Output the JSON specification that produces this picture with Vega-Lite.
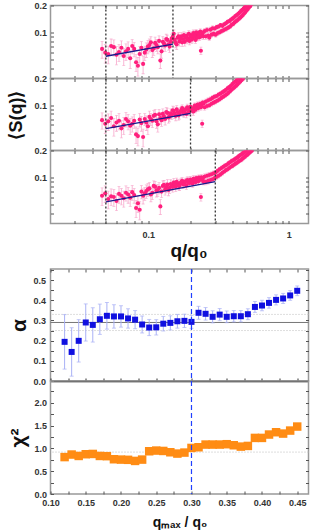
{
"$schema":"https://vega.github.io/schema/vega-lite/v6.json",
"padding":{"left":5.5,"top":0.5,"right":0,"bottom":0},
"autosize":{"type":"pad"},
"datasets":{
"a1":[{"q":0.047,"s":0.066,"e":0.014},{"q":0.052,"s":0.058,"e":0.013},{"q":0.057,"s":0.069,"e":0.014},{"q":0.062,"s":0.061,"e":0.013},{"q":0.067,"s":0.055,"e":0.012},{"q":0.072,"s":0.066,"e":0.013},{"q":0.077,"s":0.071,"e":0.013},{"q":0.082,"s":0.047,"e":0.010},{"q":0.087,"s":0.058,"e":0.012},{"q":0.092,"s":0.045,"e":0.010},{"q":0.097,"s":0.065,"e":0.012},{"q":0.102,"s":0.073,"e":0.012},{"q":0.107,"s":0.064,"e":0.011},{"q":0.112,"s":0.077,"e":0.012},{"q":0.117,"s":0.069,"e":0.011},{"q":0.122,"s":0.049,"e":0.009},{"q":0.127,"s":0.079,"e":0.011},{"q":0.132,"s":0.072,"e":0.010},{"q":0.137,"s":0.083,"e":0.011},{"q":0.142,"s":0.070,"e":0.010},{"q":0.147,"s":0.086,"e":0.010},{"q":0.152,"s":0.097,"e":0.010},{"q":0.157,"s":0.077,"e":0.009},{"q":0.162,"s":0.088,"e":0.009},{"q":0.167,"s":0.080,"e":0.009},{"q":0.172,"s":0.091,"e":0.009},{"q":0.177,"s":0.085,"e":0.008},{"q":0.182,"s":0.079,"e":0.008},{"q":0.187,"s":0.092,"e":0.008},{"q":0.192,"s":0.086,"e":0.008},{"q":0.197,"s":0.081,"e":0.008},{"q":0.202,"s":0.094,"e":0.008},{"q":0.207,"s":0.087,"e":0.008},{"q":0.212,"s":0.096,"e":0.008},{"q":0.217,"s":0.083,"e":0.007},{"q":0.222,"s":0.093,"e":0.007},{"q":0.227,"s":0.099,"e":0.007},{"q":0.232,"s":0.089,"e":0.007},{"q":0.237,"s":0.063,"e":0.006},{"q":0.242,"s":0.097,"e":0.007},{"q":0.247,"s":0.091,"e":0.007},{"q":0.252,"s":0.104,"e":0.007},{"q":0.257,"s":0.091,"e":0.007},{"q":0.262,"s":0.107,"e":0.007},{"q":0.267,"s":0.093,"e":0.007},{"q":0.272,"s":0.088,"e":0.006},{"q":0.277,"s":0.108,"e":0.007},{"q":0.282,"s":0.095,"e":0.006},{"q":0.287,"s":0.112,"e":0.007},{"q":0.292,"s":0.097,"e":0.006},{"q":0.297,"s":0.111,"e":0.006},{"q":0.302,"s":0.095,"e":0.006},{"q":0.307,"s":0.115,"e":0.006},{"q":0.312,"s":0.099,"e":0.006},{"q":0.317,"s":0.117,"e":0.006},{"q":0.322,"s":0.101,"e":0.006},{"q":0.327,"s":0.121,"e":0.006},{"q":0.332,"s":0.104,"e":0.006},{"q":0.337,"s":0.119,"e":0.006},{"q":0.342,"s":0.106,"e":0.006},{"q":0.347,"s":0.124,"e":0.006},{"q":0.352,"s":0.109,"e":0.006},{"q":0.357,"s":0.127,"e":0.006},{"q":0.362,"s":0.111,"e":0.006},{"q":0.367,"s":0.132,"e":0.006},{"q":0.372,"s":0.114,"e":0.006},{"q":0.377,"s":0.134,"e":0.006},{"q":0.382,"s":0.117,"e":0.006},{"q":0.387,"s":0.139,"e":0.006},{"q":0.392,"s":0.122,"e":0.006},{"q":0.397,"s":0.143,"e":0.006},{"q":0.402,"s":0.125,"e":0.006},{"q":0.407,"s":0.147,"e":0.006},{"q":0.412,"s":0.130,"e":0.006},{"q":0.417,"s":0.153,"e":0.006},{"q":0.422,"s":0.134,"e":0.006},{"q":0.427,"s":0.157,"e":0.006},{"q":0.432,"s":0.138,"e":0.006},{"q":0.437,"s":0.162,"e":0.007},{"q":0.442,"s":0.143,"e":0.007},{"q":0.447,"s":0.167,"e":0.007},{"q":0.452,"s":0.147,"e":0.007},{"q":0.457,"s":0.173,"e":0.007},{"q":0.462,"s":0.152,"e":0.007},{"q":0.467,"s":0.179,"e":0.007},{"q":0.472,"s":0.158,"e":0.007},{"q":0.477,"s":0.185,"e":0.007},{"q":0.482,"s":0.164,"e":0.007},{"q":0.487,"s":0.193,"e":0.008},{"q":0.492,"s":0.170,"e":0.008},{"q":0.497,"s":0.199,"e":0.008},{"q":0.502,"s":0.177,"e":0.008},{"q":0.507,"s":0.205,"e":0.008},{"q":0.512,"s":0.184,"e":0.008},{"q":0.517,"s":0.213,"e":0.008},{"q":0.522,"s":0.191,"e":0.008},{"q":0.527,"s":0.22,"e":0.008},{"q":0.532,"s":0.198,"e":0.008},{"q":0.537,"s":0.215,"e":0.008},{"q":0.542,"s":0.207,"e":0.008},{"q":0.547,"s":0.222,"e":0.008},
{"q":0.0495,"s":0.060,"e":0.014},{"q":0.0545,"s":0.071,"e":0.014},{"q":0.0595,"s":0.057,"e":0.013},{"q":0.0645,"s":0.068,"e":0.013},{"q":0.0695,"s":0.062,"e":0.013},{"q":0.0745,"s":0.052,"e":0.012},{"q":0.0795,"s":0.066,"e":0.012},{"q":0.0845,"s":0.043,"e":0.010},{"q":0.0895,"s":0.068,"e":0.012},{"q":0.0945,"s":0.060,"e":0.011},{"q":0.0995,"s":0.070,"e":0.012},{"q":0.1045,"s":0.078,"e":0.012},{"q":0.1095,"s":0.067,"e":0.011},{"q":0.1145,"s":0.073,"e":0.011},{"q":0.1195,"s":0.081,"e":0.011},{"q":0.1245,"s":0.062,"e":0.010},{"q":0.1295,"s":0.076,"e":0.010},{"q":0.1345,"s":0.085,"e":0.011},{"q":0.1395,"s":0.074,"e":0.010},{"q":0.1445,"s":0.079,"e":0.010},{"q":0.1495,"s":0.090,"e":0.010},{"q":0.1545,"s":0.083,"e":0.009},{"q":0.1595,"s":0.074,"e":0.009},{"q":0.1645,"s":0.091,"e":0.009},{"q":0.1695,"s":0.085,"e":0.009},{"q":0.1745,"s":0.078,"e":0.008},{"q":0.1795,"s":0.094,"e":0.008},{"q":0.1845,"s":0.088,"e":0.008},{"q":0.1895,"s":0.083,"e":0.008},{"q":0.1945,"s":0.097,"e":0.008},{"q":0.1995,"s":0.090,"e":0.008},{"q":0.2045,"s":0.084,"e":0.008},{"q":0.2095,"s":0.099,"e":0.008},{"q":0.2145,"s":0.091,"e":0.007},{"q":0.2195,"s":0.101,"e":0.007},{"q":0.2245,"s":0.088,"e":0.007},{"q":0.2295,"s":0.095,"e":0.007},{"q":0.2345,"s":0.103,"e":0.007},{"q":0.2395,"s":0.092,"e":0.007},{"q":0.2445,"s":0.100,"e":0.007}],
"a2":[{"q":0.047,"s":0.068,"e":0.014},{"q":0.052,"s":0.066,"e":0.014},{"q":0.057,"s":0.058,"e":0.013},{"q":0.062,"s":0.067,"e":0.014},{"q":0.067,"s":0.060,"e":0.013},{"q":0.072,"s":0.066,"e":0.013},{"q":0.077,"s":0.062,"e":0.012},{"q":0.082,"s":0.047,"e":0.010},{"q":0.087,"s":0.069,"e":0.012},{"q":0.092,"s":0.044,"e":0.010},{"q":0.097,"s":0.064,"e":0.012},{"q":0.102,"s":0.074,"e":0.012},{"q":0.107,"s":0.067,"e":0.011},{"q":0.112,"s":0.078,"e":0.012},{"q":0.117,"s":0.061,"e":0.011},{"q":0.122,"s":0.072,"e":0.011},{"q":0.127,"s":0.080,"e":0.011},{"q":0.132,"s":0.070,"e":0.010},{"q":0.137,"s":0.082,"e":0.011},{"q":0.142,"s":0.075,"e":0.010},{"q":0.147,"s":0.079,"e":0.010},{"q":0.152,"s":0.086,"e":0.010},{"q":0.157,"s":0.076,"e":0.009},{"q":0.162,"s":0.084,"e":0.009},{"q":0.167,"s":0.079,"e":0.009},{"q":0.172,"s":0.089,"e":0.009},{"q":0.177,"s":0.083,"e":0.008},{"q":0.182,"s":0.087,"e":0.008},{"q":0.187,"s":0.080,"e":0.008},{"q":0.192,"s":0.091,"e":0.008},{"q":0.197,"s":0.085,"e":0.008},{"q":0.202,"s":0.092,"e":0.008},{"q":0.207,"s":0.088,"e":0.008},{"q":0.212,"s":0.095,"e":0.008},{"q":0.217,"s":0.089,"e":0.007},{"q":0.222,"s":0.097,"e":0.007},{"q":0.227,"s":0.093,"e":0.007},{"q":0.232,"s":0.100,"e":0.007},{"q":0.237,"s":0.095,"e":0.007},{"q":0.242,"s":0.062,"e":0.006},{"q":0.247,"s":0.105,"e":0.007},{"q":0.252,"s":0.095,"e":0.007},{"q":0.257,"s":0.110,"e":0.007},{"q":0.262,"s":0.098,"e":0.007},{"q":0.267,"s":0.114,"e":0.007},{"q":0.272,"s":0.100,"e":0.006},{"q":0.277,"s":0.117,"e":0.007},{"q":0.282,"s":0.104,"e":0.006},{"q":0.287,"s":0.121,"e":0.007},{"q":0.292,"s":0.107,"e":0.006},{"q":0.297,"s":0.125,"e":0.006},{"q":0.302,"s":0.110,"e":0.006},{"q":0.307,"s":0.127,"e":0.006},{"q":0.312,"s":0.113,"e":0.006},{"q":0.317,"s":0.132,"e":0.006},{"q":0.322,"s":0.117,"e":0.006},{"q":0.327,"s":0.135,"e":0.006},{"q":0.332,"s":0.121,"e":0.006},{"q":0.337,"s":0.140,"e":0.006},{"q":0.342,"s":0.125,"e":0.006},{"q":0.347,"s":0.144,"e":0.006},{"q":0.352,"s":0.129,"e":0.006},{"q":0.357,"s":0.149,"e":0.006},{"q":0.362,"s":0.133,"e":0.006},{"q":0.367,"s":0.155,"e":0.007},{"q":0.372,"s":0.138,"e":0.007},{"q":0.377,"s":0.160,"e":0.007},{"q":0.382,"s":0.144,"e":0.007},{"q":0.387,"s":0.166,"e":0.007},{"q":0.392,"s":0.150,"e":0.007},{"q":0.397,"s":0.173,"e":0.007},{"q":0.402,"s":0.155,"e":0.007},{"q":0.407,"s":0.179,"e":0.008},{"q":0.412,"s":0.160,"e":0.008},{"q":0.417,"s":0.185,"e":0.008},{"q":0.422,"s":0.166,"e":0.008},{"q":0.427,"s":0.192,"e":0.008},{"q":0.432,"s":0.172,"e":0.008},{"q":0.437,"s":0.199,"e":0.008},{"q":0.442,"s":0.179,"e":0.008},{"q":0.447,"s":0.206,"e":0.008},{"q":0.452,"s":0.185,"e":0.008},{"q":0.457,"s":0.213,"e":0.008},{"q":0.462,"s":0.192,"e":0.008},{"q":0.467,"s":0.22,"e":0.008},{"q":0.472,"s":0.199,"e":0.008},{"q":0.477,"s":0.215,"e":0.008},
{"q":0.0495,"s":0.062,"e":0.014},{"q":0.0545,"s":0.072,"e":0.014},{"q":0.0595,"s":0.064,"e":0.013},{"q":0.0645,"s":0.055,"e":0.012},{"q":0.0695,"s":0.070,"e":0.013},{"q":0.0745,"s":0.059,"e":0.012},{"q":0.0795,"s":0.067,"e":0.012},{"q":0.0845,"s":0.045,"e":0.010},{"q":0.0895,"s":0.063,"e":0.012},{"q":0.0945,"s":0.070,"e":0.011},{"q":0.0995,"s":0.058,"e":0.011},{"q":0.1045,"s":0.070,"e":0.011},{"q":0.1095,"s":0.076,"e":0.011},{"q":0.1145,"s":0.066,"e":0.011},{"q":0.1195,"s":0.079,"e":0.011},{"q":0.1245,"s":0.068,"e":0.010},{"q":0.1295,"s":0.075,"e":0.010},{"q":0.1345,"s":0.084,"e":0.010},{"q":0.1395,"s":0.073,"e":0.010},{"q":0.1445,"s":0.081,"e":0.010},{"q":0.1495,"s":0.088,"e":0.010},{"q":0.1545,"s":0.080,"e":0.009},{"q":0.1595,"s":0.090,"e":0.009},{"q":0.1645,"s":0.077,"e":0.009},{"q":0.1695,"s":0.085,"e":0.009},{"q":0.1745,"s":0.093,"e":0.008},{"q":0.1795,"s":0.081,"e":0.008},{"q":0.1845,"s":0.090,"e":0.008},{"q":0.1895,"s":0.095,"e":0.008},{"q":0.1945,"s":0.084,"e":0.008},{"q":0.1995,"s":0.096,"e":0.008},{"q":0.2045,"s":0.091,"e":0.008},{"q":0.2095,"s":0.085,"e":0.008},{"q":0.2145,"s":0.099,"e":0.007},{"q":0.2195,"s":0.092,"e":0.007},{"q":0.2245,"s":0.102,"e":0.007},{"q":0.2295,"s":0.096,"e":0.007},{"q":0.2345,"s":0.104,"e":0.007},{"q":0.2395,"s":0.098,"e":0.007},{"q":0.2445,"s":0.107,"e":0.007}],
"a3":[{"q":0.047,"s":0.063,"e":0.014},{"q":0.052,"s":0.058,"e":0.013},{"q":0.057,"s":0.061,"e":0.013},{"q":0.062,"s":0.066,"e":0.014},{"q":0.067,"s":0.059,"e":0.012},{"q":0.072,"s":0.065,"e":0.013},{"q":0.077,"s":0.069,"e":0.013},{"q":0.082,"s":0.046,"e":0.010},{"q":0.087,"s":0.044,"e":0.010},{"q":0.092,"s":0.063,"e":0.012},{"q":0.097,"s":0.071,"e":0.012},{"q":0.102,"s":0.076,"e":0.012},{"q":0.107,"s":0.068,"e":0.011},{"q":0.112,"s":0.079,"e":0.012},{"q":0.117,"s":0.073,"e":0.011},{"q":0.122,"s":0.048,"e":0.009},{"q":0.127,"s":0.081,"e":0.011},{"q":0.132,"s":0.074,"e":0.010},{"q":0.137,"s":0.084,"e":0.011},{"q":0.142,"s":0.077,"e":0.010},{"q":0.147,"s":0.082,"e":0.010},{"q":0.152,"s":0.088,"e":0.010},{"q":0.157,"s":0.079,"e":0.009},{"q":0.162,"s":0.086,"e":0.009},{"q":0.167,"s":0.081,"e":0.009},{"q":0.172,"s":0.090,"e":0.009},{"q":0.177,"s":0.084,"e":0.008},{"q":0.182,"s":0.088,"e":0.008},{"q":0.187,"s":0.082,"e":0.008},{"q":0.192,"s":0.093,"e":0.008},{"q":0.197,"s":0.087,"e":0.008},{"q":0.202,"s":0.091,"e":0.008},{"q":0.207,"s":0.086,"e":0.008},{"q":0.212,"s":0.094,"e":0.008},{"q":0.217,"s":0.089,"e":0.007},{"q":0.222,"s":0.096,"e":0.007},{"q":0.227,"s":0.091,"e":0.007},{"q":0.232,"s":0.098,"e":0.007},{"q":0.237,"s":0.061,"e":0.006},{"q":0.242,"s":0.095,"e":0.007},{"q":0.247,"s":0.090,"e":0.007},{"q":0.252,"s":0.103,"e":0.007},{"q":0.257,"s":0.090,"e":0.007},{"q":0.262,"s":0.105,"e":0.007},{"q":0.267,"s":0.092,"e":0.007},{"q":0.272,"s":0.107,"e":0.007},{"q":0.277,"s":0.094,"e":0.006},{"q":0.282,"s":0.109,"e":0.007},{"q":0.287,"s":0.096,"e":0.006},{"q":0.292,"s":0.112,"e":0.007},{"q":0.297,"s":0.099,"e":0.006},{"q":0.302,"s":0.114,"e":0.006},{"q":0.307,"s":0.102,"e":0.006},{"q":0.312,"s":0.119,"e":0.006},{"q":0.317,"s":0.105,"e":0.006},{"q":0.322,"s":0.124,"e":0.006},{"q":0.327,"s":0.109,"e":0.006},{"q":0.332,"s":0.128,"e":0.006},{"q":0.337,"s":0.113,"e":0.006},{"q":0.342,"s":0.132,"e":0.006},{"q":0.347,"s":0.117,"e":0.006},{"q":0.352,"s":0.136,"e":0.006},{"q":0.357,"s":0.121,"e":0.006},{"q":0.362,"s":0.139,"e":0.006},{"q":0.367,"s":0.124,"e":0.006},{"q":0.372,"s":0.144,"e":0.006},{"q":0.377,"s":0.128,"e":0.006},{"q":0.382,"s":0.148,"e":0.006},{"q":0.387,"s":0.132,"e":0.006},{"q":0.392,"s":0.153,"e":0.007},{"q":0.397,"s":0.135,"e":0.007},{"q":0.402,"s":0.156,"e":0.007},{"q":0.407,"s":0.139,"e":0.007},{"q":0.412,"s":0.160,"e":0.007},{"q":0.417,"s":0.143,"e":0.007},{"q":0.422,"s":0.164,"e":0.007},{"q":0.427,"s":0.146,"e":0.007},{"q":0.432,"s":0.168,"e":0.007},{"q":0.437,"s":0.150,"e":0.007},{"q":0.442,"s":0.173,"e":0.007},{"q":0.447,"s":0.154,"e":0.007},{"q":0.452,"s":0.178,"e":0.007},{"q":0.457,"s":0.157,"e":0.007},{"q":0.462,"s":0.182,"e":0.008},{"q":0.467,"s":0.162,"e":0.008},{"q":0.472,"s":0.187,"e":0.008},{"q":0.477,"s":0.166,"e":0.008},{"q":0.482,"s":0.191,"e":0.008},{"q":0.487,"s":0.171,"e":0.008},{"q":0.492,"s":0.197,"e":0.008},{"q":0.497,"s":0.176,"e":0.008},{"q":0.502,"s":0.202,"e":0.008},{"q":0.507,"s":0.180,"e":0.008},{"q":0.512,"s":0.207,"e":0.008},{"q":0.517,"s":0.185,"e":0.008},{"q":0.522,"s":0.212,"e":0.008},{"q":0.527,"s":0.190,"e":0.008},{"q":0.532,"s":0.217,"e":0.008},{"q":0.537,"s":0.195,"e":0.008},{"q":0.542,"s":0.222,"e":0.008},{"q":0.547,"s":0.2,"e":0.008},{"q":0.552,"s":0.215,"e":0.008},
{"q":0.0495,"s":0.067,"e":0.014},{"q":0.0545,"s":0.062,"e":0.013},{"q":0.0595,"s":0.055,"e":0.012},{"q":0.0645,"s":0.063,"e":0.013},{"q":0.0695,"s":0.068,"e":0.013},{"q":0.0745,"s":0.060,"e":0.012},{"q":0.0795,"s":0.064,"e":0.012},{"q":0.0845,"s":0.052,"e":0.011},{"q":0.0895,"s":0.070,"e":0.012},{"q":0.0945,"s":0.067,"e":0.011},{"q":0.0995,"s":0.074,"e":0.012},{"q":0.1045,"s":0.065,"e":0.011},{"q":0.1095,"s":0.081,"e":0.011},{"q":0.1145,"s":0.072,"e":0.011},{"q":0.1195,"s":0.077,"e":0.011},{"q":0.1245,"s":0.070,"e":0.010},{"q":0.1295,"s":0.083,"e":0.010},{"q":0.1345,"s":0.078,"e":0.010},{"q":0.1395,"s":0.073,"e":0.010},{"q":0.1445,"s":0.085,"e":0.010},{"q":0.1495,"s":0.079,"e":0.010},{"q":0.1545,"s":0.084,"e":0.009},{"q":0.1595,"s":0.090,"e":0.009},{"q":0.1645,"s":0.082,"e":0.009},{"q":0.1695,"s":0.087,"e":0.009},{"q":0.1745,"s":0.092,"e":0.008},{"q":0.1795,"s":0.085,"e":0.008},{"q":0.1845,"s":0.091,"e":0.008},{"q":0.1895,"s":0.094,"e":0.008},{"q":0.1945,"s":0.088,"e":0.008},{"q":0.1995,"s":0.095,"e":0.008},{"q":0.2045,"s":0.089,"e":0.008},{"q":0.2095,"s":0.097,"e":0.008},{"q":0.2145,"s":0.092,"e":0.007},{"q":0.2195,"s":0.099,"e":0.007},{"q":0.2245,"s":0.094,"e":0.007},{"q":0.2295,"s":0.100,"e":0.007},{"q":0.2345,"s":0.095,"e":0.007},{"q":0.2395,"s":0.101,"e":0.007},{"q":0.2445,"s":0.097,"e":0.007}],
"b":[{"q":0.12,"a":0.194,"e":0.135},{"q":0.13,"a":0.144,"e":0.12},{"q":0.14,"a":0.199,"e":0.105},{"q":0.15,"a":0.29,"e":0.092},{"q":0.16,"a":0.278,"e":0.085},{"q":0.17,"a":0.306,"e":0.075},{"q":0.18,"a":0.323,"e":0.066},{"q":0.19,"a":0.32,"e":0.058},{"q":0.2,"a":0.32,"e":0.053},{"q":0.21,"a":0.31,"e":0.048},{"q":0.22,"a":0.304,"e":0.045},{"q":0.23,"a":0.28,"e":0.042},{"q":0.24,"a":0.265,"e":0.04},{"q":0.25,"a":0.266,"e":0.038},{"q":0.26,"a":0.284,"e":0.036},{"q":0.27,"a":0.288,"e":0.035},{"q":0.28,"a":0.296,"e":0.034},{"q":0.29,"a":0.298,"e":0.033},{"q":0.3,"a":0.293,"e":0.032},{"q":0.31,"a":0.338,"e":0.032},{"q":0.32,"a":0.333,"e":0.031},{"q":0.33,"a":0.318,"e":0.03},{"q":0.34,"a":0.329,"e":0.03},{"q":0.35,"a":0.318,"e":0.029},{"q":0.36,"a":0.321,"e":0.028},{"q":0.37,"a":0.321,"e":0.028},{"q":0.38,"a":0.331,"e":0.027},{"q":0.39,"a":0.367,"e":0.027},{"q":0.4,"a":0.374,"e":0.026},{"q":0.41,"a":0.387,"e":0.026},{"q":0.42,"a":0.402,"e":0.025},{"q":0.43,"a":0.409,"e":0.025},{"q":0.44,"a":0.424,"e":0.024},{"q":0.45,"a":0.447,"e":0.024}],
"c":[{"q":0.12,"c":0.81},{"q":0.13,"c":0.866},{"q":0.14,"c":0.835},{"q":0.15,"c":0.873},{"q":0.16,"c":0.879},{"q":0.17,"c":0.835},{"q":0.18,"c":0.83},{"q":0.19,"c":0.763},{"q":0.2,"c":0.755},{"q":0.21,"c":0.75},{"q":0.22,"c":0.726},{"q":0.23,"c":0.755},{"q":0.24,"c":0.938},{"q":0.25,"c":0.953},{"q":0.26,"c":0.945},{"q":0.27,"c":0.916},{"q":0.28,"c":0.887},{"q":0.29,"c":0.909},{"q":0.3,"c":1.011},{"q":0.31,"c":1.026},{"q":0.32,"c":1.085},{"q":0.33,"c":1.085},{"q":0.34,"c":1.085},{"q":0.35,"c":1.093},{"q":0.36,"c":1.07},{"q":0.37,"c":1.04},{"q":0.38,"c":1.055},{"q":0.39,"c":1.231},{"q":0.4,"c":1.231},{"q":0.41,"c":1.305},{"q":0.42,"c":1.356},{"q":0.43,"c":1.326},{"q":0.44,"c":1.392},{"q":0.45,"c":1.48}]
},
"vconcat":[
{"vconcat":[
{"width":258,"height":73,
"layer":[
{"data":{"name":"a1"},"mark":{"type":"errorbar","ticks":true,"size":3,"thickness":0.8,"color":"#f7a3c9","clip":true},
"encoding":{"x":{"field":"q","type":"quantitative","scale":{"type":"log","domain":[0.0202,1.38],"nice":false},"axis":{"orient":"top","values":[0.03,0.04,0.05,0.06,0.07,0.08,0.09,0.1,0.2,0.3,0.4,0.5,0.6,0.7,0.8,0.9,1],"labels":false,"title":null,"tickSize":-3}},
"y":{"field":"s","type":"quantitative","scale":{"type":"log","domain":[0.031,0.2],"nice":false},"axis":{"orient":"right","values":[0.04,0.05,0.06,0.07,0.08,0.09,0.1,0.2],"labels":false,"title":null,"tickSize":-3}},
"yError":{"field":"e"}}},
{"data":{"name":"a1"},"mark":{"type":"circle","color":"#ff1f7d","size":17,"opacity":1,"clip":true},
"encoding":{"x":{"field":"q","type":"quantitative","axis":{"orient":"bottom","values":[0.03,0.04,0.05,0.06,0.07,0.08,0.09,0.1,0.2,0.3,0.4,0.5,0.6,0.7,0.8,0.9,1],"labels":false,"title":null,"tickSize":-3}},
"y":{"field":"s","type":"quantitative","axis":{"values":[0.04,0.05,0.06,0.07,0.08,0.09,0.1,0.2],"labelExpr":"datum.value == 0.1 ? '0.1' : datum.value == 0.2 ? '0.2' : ''","title":null,"tickSize":-3,"labelPadding":7}}}},
{"data":{"values":[{"q":0.05,"s":0.0547},{"q":0.15,"s":0.0747}]},"mark":{"type":"line","color":"#1a1a8c","strokeWidth":1.3},
"encoding":{"x":{"field":"q","type":"quantitative","axis":null},"y":{"field":"s","type":"quantitative","axis":null}}},
{"data":{"values":[{"q":0.05},{"q":0.15}]},"mark":{"type":"rule","color":"#333","strokeDash":[2,2],"strokeWidth":1.3},
"encoding":{"x":{"field":"q","type":"quantitative","axis":null}}},
{"mark":{"type":"text","fontSize":13,"align":"center","baseline":"middle","color":"#111"},
"encoding":{"x":{"datum":0.0317,"type":"quantitative","axis":null},"y":{"datum":0.154,"type":"quantitative","axis":null},"text":{"value":"α"}}},
{"mark":{"type":"text","fontSize":9,"align":"right","baseline":"middle","color":"#111"},
"encoding":{"x":{"datum":0.0458,"type":"quantitative","axis":null},"y":{"datum":0.0467,"type":"quantitative","axis":null},"text":{"value":"0.29 ± 0.09"}}},
{"mark":{"type":"text","fontSize":20,"align":"right","baseline":"middle","color":"#111"},
"encoding":{"x":{"datum":1.336,"type":"quantitative","axis":null},"y":{"datum":0.127,"type":"quantitative","axis":null},"text":{"value":"(a)"}}}
],
"resolve":{"axis":{"x":"independent","y":"independent"}}},
{"width":258,"height":72,
"layer":[
{"data":{"name":"a2"},"mark":{"type":"errorbar","ticks":true,"size":3,"thickness":0.8,"color":"#f7a3c9","clip":true},
"encoding":{"x":{"field":"q","type":"quantitative","scale":{"type":"log","domain":[0.0202,1.38],"nice":false},"axis":{"orient":"top","values":[0.03,0.04,0.05,0.06,0.07,0.08,0.09,0.1,0.2,0.3,0.4,0.5,0.6,0.7,0.8,0.9,1],"labels":false,"title":null,"tickSize":-3}},
"y":{"field":"s","type":"quantitative","scale":{"type":"log","domain":[0.031,0.2],"nice":false},"axis":{"orient":"right","values":[0.04,0.05,0.06,0.07,0.08,0.09,0.1,0.2],"labels":false,"title":null,"tickSize":-3}},
"yError":{"field":"e"}}},
{"data":{"name":"a2"},"mark":{"type":"circle","color":"#ff1f7d","size":17,"opacity":1,"clip":true},
"encoding":{"x":{"field":"q","type":"quantitative","axis":{"orient":"bottom","values":[0.03,0.04,0.05,0.06,0.07,0.08,0.09,0.1,0.2,0.3,0.4,0.5,0.6,0.7,0.8,0.9,1],"labels":false,"title":null,"tickSize":-3}},
"y":{"field":"s","type":"quantitative","axis":{"values":[0.04,0.05,0.06,0.07,0.08,0.09,0.1,0.2],"labelExpr":"datum.value == 0.1 ? '0.1' : datum.value == 0.2 ? '0.2' : ''","title":"⟨S(q)⟩","titleFontSize":18,"titleX":-34.5,"titleBaseline":"middle","titleAlign":"center","tickSize":-3,"labelPadding":7}}}},
{"data":{"values":[{"q":0.05,"s":0.0545},{"q":0.2,"s":0.081}]},"mark":{"type":"line","color":"#1a1a8c","strokeWidth":1.3},
"encoding":{"x":{"field":"q","type":"quantitative","axis":null},"y":{"field":"s","type":"quantitative","axis":null}}},
{"data":{"values":[{"q":0.05},{"q":0.2}]},"mark":{"type":"rule","color":"#333","strokeDash":[2,2],"strokeWidth":1.3},
"encoding":{"x":{"field":"q","type":"quantitative","axis":null}}},
{"mark":{"type":"text","fontSize":9,"align":"right","baseline":"middle","color":"#111"},
"encoding":{"x":{"datum":0.0458,"type":"quantitative","axis":null},"y":{"datum":0.0432,"type":"quantitative","axis":null},"text":{"value":"0.32 ± 0.05"}}}
],
"resolve":{"axis":{"x":"independent","y":"independent"}}},
{"width":258,"height":73,
"layer":[
{"data":{"name":"a3"},"mark":{"type":"errorbar","ticks":true,"size":3,"thickness":0.8,"color":"#f7a3c9","clip":true},
"encoding":{"x":{"field":"q","type":"quantitative","scale":{"type":"log","domain":[0.0202,1.38],"nice":false},"axis":{"orient":"top","values":[0.03,0.04,0.05,0.06,0.07,0.08,0.09,0.1,0.2,0.3,0.4,0.5,0.6,0.7,0.8,0.9,1],"labels":false,"title":null,"tickSize":-3}},
"y":{"field":"s","type":"quantitative","scale":{"type":"log","domain":[0.031,0.2],"nice":false},"axis":{"orient":"right","values":[0.04,0.05,0.06,0.07,0.08,0.09,0.1,0.2],"labels":false,"title":null,"tickSize":-3}},
"yError":{"field":"e"}}},
{"data":{"name":"a3"},"mark":{"type":"circle","color":"#ff1f7d","size":17,"opacity":1,"clip":true},
"encoding":{"x":{"field":"q","type":"quantitative","axis":{"orient":"bottom","values":[0.03,0.04,0.05,0.06,0.07,0.08,0.09,0.1,0.2,0.3,0.4,0.5,0.6,0.7,0.8,0.9,1],"labelExpr":"datum.value == 0.1 ? '0.1' : datum.value == 1 ? '1' : ''","title":"q/q₀","titleFontSize":19,"titleX":138,"titleY":27,"titleBaseline":"middle","tickSize":-3,"labelPadding":10}},
"y":{"field":"s","type":"quantitative","axis":{"values":[0.04,0.05,0.06,0.07,0.08,0.09,0.1,0.2],"labelExpr":"datum.value == 0.1 ? '0.1' : datum.value == 0.2 ? '0.2' : ''","title":null,"tickSize":-3,"labelPadding":7}}}},
{"data":{"values":[{"q":0.05,"s":0.054},{"q":0.3,"s":0.0901}]},"mark":{"type":"line","color":"#1a1a8c","strokeWidth":1.3},
"encoding":{"x":{"field":"q","type":"quantitative","axis":null},"y":{"field":"s","type":"quantitative","axis":null}}},
{"data":{"values":[{"q":0.05},{"q":0.3}]},"mark":{"type":"rule","color":"#333","strokeDash":[2,2],"strokeWidth":1.3},
"encoding":{"x":{"field":"q","type":"quantitative","axis":null}}},
{"mark":{"type":"text","fontSize":9,"align":"right","baseline":"middle","color":"#111"},
"encoding":{"x":{"datum":0.0458,"type":"quantitative","axis":null},"y":{"datum":0.040,"type":"quantitative","axis":null},"text":{"value":"0.29 ± 0.04"}}}
],
"resolve":{"axis":{"x":"independent","y":"independent"}}}
],"spacing":0,"bounds":"flush"},
{"vconcat":[
{"width":258,"height":112,
"layer":[
{"data":{"values":[{"v":0.29}]},"mark":{"type":"rule","color":"#777","strokeWidth":1},
"encoding":{"y":{"field":"v","type":"quantitative","scale":{"domain":[0,0.555],"nice":false},"axis":null}}},
{"data":{"values":[{"v":0.25},{"v":0.33}]},"mark":{"type":"rule","color":"#bbb","strokeWidth":1,"strokeDash":[1,2]},
"encoding":{"y":{"field":"v","type":"quantitative","axis":null}}},
{"data":{"name":"b"},"mark":{"type":"errorbar","ticks":true,"size":4,"thickness":1,"color":"#a9b1f5"},
"encoding":{"x":{"field":"q","type":"quantitative","scale":{"domain":[0.1,0.466],"nice":false,"zero":false},"axis":{"orient":"top","values":[0.1,0.125,0.15,0.175,0.2,0.225,0.25,0.275,0.3,0.325,0.35,0.375,0.4,0.425,0.45],"labels":false,"title":null,"tickSize":-3}},
"y":{"field":"a","type":"quantitative","axis":{"orient":"right","values":[0.05,0.1,0.15,0.2,0.25,0.3,0.35,0.4,0.45,0.5,0.55],"labels":false,"title":null,"tickSize":-3}},
"yError":{"field":"e"}}},
{"data":{"name":"b"},"mark":{"type":"square","color":"#1010e0","size":36,"opacity":1},
"encoding":{"x":{"field":"q","type":"quantitative","axis":{"orient":"bottom","values":[0.1,0.125,0.15,0.175,0.2,0.225,0.25,0.275,0.3,0.325,0.35,0.375,0.4,0.425,0.45],"labels":false,"title":null,"tickSize":-3,"domain":true,"domainColor":"#000","domainWidth":1.5,"tickColor":"#333"}},
"y":{"field":"a","type":"quantitative","axis":{"values":[0,0.05,0.1,0.15,0.2,0.25,0.3,0.35,0.4,0.45,0.5,0.55],"labelExpr":"abs(datum.value*10 - round(datum.value*10)) < 0.001 ? format(datum.value, '.1f') : ''","title":"α","titleFontSize":21,"titleX":-31.5,"titleBaseline":"middle","titleAlign":"center","tickSize":-3,"labelPadding":8}}}},
{"data":{"values":[{"q":0.3}]},"mark":{"type":"rule","color":"#2040ff","strokeDash":[5,3],"strokeWidth":1.2},
"encoding":{"x":{"field":"q","type":"quantitative","axis":null}}},
{"mark":{"type":"text","fontSize":10,"align":"left","baseline":"middle","color":"#111"},
"encoding":{"x":{"datum":0.1123,"type":"quantitative","axis":null},"y":{"datum":0.487,"type":"quantitative","axis":null},"text":{"value":"qₘᵢₙ / q₀ = 0.05"}}},
{"mark":{"type":"text","fontSize":20,"align":"right","baseline":"middle","color":"#111"},
"encoding":{"x":{"datum":0.4635,"type":"quantitative","axis":null},"y":{"datum":0.087,"type":"quantitative","axis":null},"text":{"value":"(b)"}}}
],
"resolve":{"axis":{"x":"independent","y":"independent"}}},
{"width":258,"height":113,
"layer":[
{"data":{"values":[{"v":0.92}]},"mark":{"type":"rule","color":"#bbb","strokeWidth":1,"strokeDash":[1,2]},
"encoding":{"y":{"field":"v","type":"quantitative","scale":{"domain":[0,2.48],"nice":false},"axis":{"orient":"right","values":[0.25,0.5,0.75,1,1.25,1.5,1.75,2,2.25],"labels":false,"title":null,"tickSize":-3}}}},
{"data":{"name":"c"},"mark":{"type":"square","color":"#ff8c14","size":72,"opacity":1},
"encoding":{"x":{"field":"q","type":"quantitative","scale":{"domain":[0.1,0.466],"nice":false,"zero":false},"axis":{"orient":"bottom","values":[0.1,0.125,0.15,0.175,0.2,0.225,0.25,0.275,0.3,0.325,0.35,0.375,0.4,0.425,0.45],"labelExpr":"abs(datum.value*20 - round(datum.value*20)) < 0.001 ? format(datum.value, '.2f') : ''","title":"qₘₐₓ / q₀","titleFontSize":14,"titleY":28,"titleBaseline":"middle","tickSize":-3,"labelPadding":7.5}},
"y":{"field":"c","type":"quantitative","axis":{"values":[0,0.25,0.5,0.75,1,1.25,1.5,1.75,2,2.25],"labelExpr":"abs(datum.value*2 - round(datum.value*2)) < 0.001 ? format(datum.value, '.1f') : ''","title":"χ²","titleFontSize":21,"titleX":-32.5,"titleBaseline":"middle","titleAlign":"center","tickSize":-3,"labelPadding":7}}}},
{"data":{"values":[{"q":0.3}]},"mark":{"type":"rule","color":"#2040ff","strokeDash":[5,3],"strokeWidth":1.2},
"encoding":{"x":{"field":"q","type":"quantitative","axis":null}}},
{"mark":{"type":"text","fontSize":20,"align":"right","baseline":"middle","color":"#111"},
"encoding":{"x":{"datum":0.4625,"type":"quantitative","axis":null},"y":{"datum":0.367,"type":"quantitative","axis":null},"text":{"value":"(c)"}}}
],
"resolve":{"axis":{"x":"independent","y":"independent"}}}
],"spacing":0,"bounds":"flush"}
],
"spacing":3.5,"bounds":"full",
"config":{
"view":{"stroke":"#999","strokeWidth":1.5},
"axis":{"labelFont":"Liberation Sans","labelFontWeight":"bold","labelFontSize":9,"labelColor":"#333","titleFont":"Liberation Sans","titleFontWeight":"bold","titleColor":"#111","tickColor":"#555","grid":false,"domain":false,"labelFlush":false,"labelOverlap":false},
"text":{"font":"Liberation Sans","fontWeight":"bold"}
}
}
